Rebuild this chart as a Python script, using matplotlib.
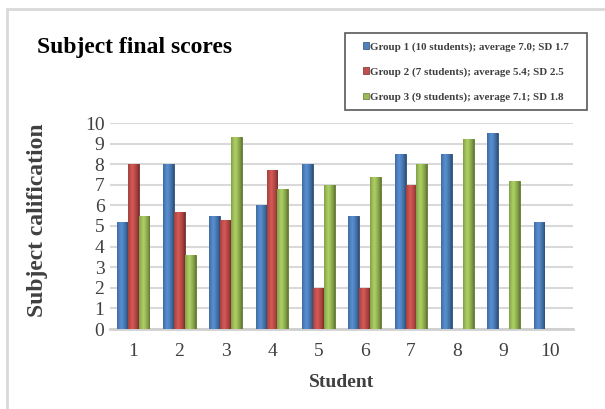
import numpy as np
import matplotlib
matplotlib.use('Agg')
import matplotlib.pyplot as plt
import matplotlib.colors as mcolors
from matplotlib.patches import Rectangle, Patch

plt.rcParams['font.family'] = ['Liberation Serif', 'DejaVu Serif']

# scores (nan = no student)
students = np.arange(1, 11)
group1 = [5.2, 8.0, 5.5, 6.0, 8.0, 5.5, 8.5, 8.5, 9.5, 5.2]
group2 = [8.0, 5.7, 5.3, 7.7, 2.0, 2.0, 7.0, np.nan, np.nan, np.nan]
group3 = [5.5, 3.6, 9.3, 6.8, 7.0, 7.4, 8.0, 9.2, 7.2, np.nan]
labels = ['Group 1 (10 students); average 7.0; SD 1.7',
          'Group 2 (7 students); average 5.4; SD 2.5',
          'Group 3 (9 students); average 7.1; SD 1.8']
colors = ['#4f81bd', '#c0504d', '#9bbb59']
edges = ['#2c4d75', '#772c2a', '#5f7530']

fig = plt.figure(figsize=(6.05, 4.09), dpi=100)
W, H = 605, 409

# light outer frame (only left/top visible in the reference)
fig.patches.append(Rectangle((7 / W, -0.05), 1.2, (409 - 9) / H + 0.05,
                             transform=fig.transFigure, fill=False,
                             edgecolor='#d9d9d9', linewidth=2))

ax = fig.add_axes([110 / W, (H - 329) / H, (573 - 110) / W, (329 - 123) / H])

w = 0.235
for k, (vals, c, e) in enumerate(zip([group1, group2, group3], colors, edges)):
    bars = ax.bar(students + (k - 1) * w, vals, width=w, color=c, edgecolor=e,
                  linewidth=0.6, zorder=3)
    # shaded look: dark sides, lighter middle
    base = np.array(mcolors.to_rgb(c))
    dark = np.array(mcolors.to_rgb(e))
    t = np.linspace(0, 1, 32)
    prof = np.clip(1 - np.abs(t - 0.4) / 0.6, 0, 1) ** 0.7
    grad = dark[None, :] * (1 - prof[:, None]) + np.minimum(base * 1.12, 1)[None, :] * prof[:, None]
    for b in bars:
        hgt = b.get_height()
        if not np.isfinite(hgt):
            continue
        x0 = b.get_x()
        im = ax.imshow(grad[None, :, :], extent=(x0, x0 + w, 0, hgt), aspect='auto',
                       zorder=3.5, interpolation='bilinear')
        im.set_clip_path(b)

ax.set_xlim(0.5, 10.5)
ax.set_ylim(0, 10)
ax.set_xticks(students)
ax.set_yticks(np.arange(0, 11, 1))
ax.tick_params(length=0, labelsize=14, labelcolor='#404040', pad=4)
ax.tick_params(axis='x', pad=10)
ax.grid(axis='y', color='#d9d9d9', linewidth=1.5, zorder=0)
for s in ['top', 'right', 'left']:
    ax.spines[s].set_visible(False)
ax.spines['bottom'].set_color('#d0d0d0')
ax.spines['bottom'].set_linewidth(2)

ax.set_xlabel('Student', fontsize=14, fontweight='bold', color='#404040', labelpad=10)
fig.text(38 / W, 1 - 220 / H, 'Subject calification', rotation=90, fontsize=17,
         fontweight='bold', color='#404040', ha='center', va='center')
fig.text(37 / W, 1 - 47 / H, 'Subject final scores', fontsize=17,
         fontweight='bold', color='black', ha='left', va='center')

# legend box drawn separately so its padding matches the original
fig.patches.append(Rectangle((345 / W, 1 - 110 / H), (587 - 345) / W, (110 - 33) / H,
                             transform=fig.transFigure, facecolor='white',
                             edgecolor='#595959', linewidth=1.2, zorder=4))
handles = [Patch(facecolor=c, edgecolor=e, linewidth=0.5) for c, e in zip(colors, edges)]
leg = fig.legend(handles, labels, loc='center left',
                 bbox_to_anchor=(363 / W, 1 - 72 / H), prop={'size': 7.9, 'weight': 'bold'},
                 frameon=False, handlelength=0.55, handleheight=0.55,
                 handletextpad=0.1, labelspacing=1.42, borderpad=0, borderaxespad=0)
leg.set_zorder(5)
for t in leg.get_texts():
    t.set_color('#404040')

fig.savefig('out.png', dpi=100)
